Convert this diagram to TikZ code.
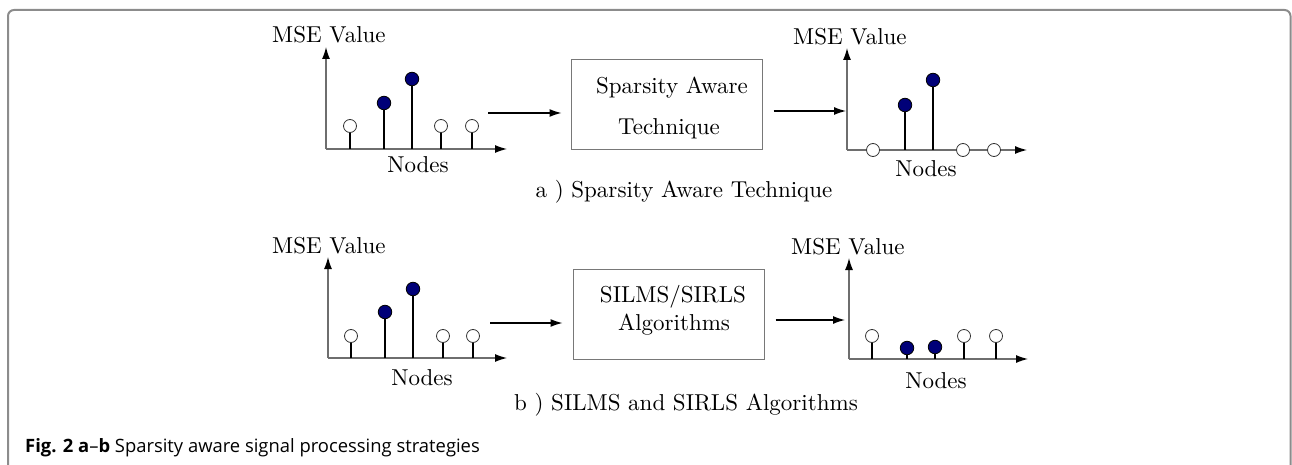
\documentclass[tikz,border=0pt]{standalone}
\usepackage{fontspec}
\setmainfont{lmroman10-regular}[Extension=.otf, BoldFont=lmroman10-bold, ItalicFont=lmroman10-italic]
\newfontfamily\capfont{Open Sans}
\usetikzlibrary{arrows.meta}
\definecolor{navy}{RGB}{0,0,120}
\definecolor{axisgray}{RGB}{110,110,110}
\definecolor{boxgray}{RGB}{120,120,120}
\definecolor{framegray}{RGB}{140,140,140}
\tikzset{
 lbl/.style={font=\fontsize{23}{28}\selectfont, inner sep=0},
 opendot/.style={circle, draw=black!80, fill=white, line width=0.8, minimum size=13, inner sep=0},
 fulldot/.style={circle, draw=black, fill=navy, line width=0.8, minimum size=13.5, inner sep=0},
 stem/.style={line width=1.2, black},
 axisline/.style={line width=1.2, axisgray, -{Latex[length=12,width=8,color=black]}},
 flow/.style={line width=1.2, black, -{Latex[length=12,width=8]}},
 procbox/.style={draw=boxgray, line width=1, rectangle, inner sep=0},
}
\begin{document}
\begin{tikzpicture}[x=1pt,y=-1pt]
\useasboundingbox (0,0) rectangle (1292,465);
% frame
\draw[framegray, line width=2, rounded corners=6] (8,470) -- (8,10) -- (1290.5,10) -- (1290.5,470);

% ---------- top-left plot
\coordinate (o1) at (326,149);
\draw[axisline] (o1) -- (326,47);
\draw[axisline] (o1) -- (507,149);
\node[opendot] (p11) at (350,126) {};
\node[fulldot] (p12) at (384,103) {};
\node[fulldot] (p13) at (412,79) {};
\node[opendot] (p14) at (441,126) {};
\node[opendot] (p15) at (472,126) {};
\foreach \n/\x in {p11/350,p12/384,p13/412,p14/441,p15/472}
  \draw[stem] (\x,149) -- (\n.south);
\node[lbl, anchor=base west] (mse1) at (272,43) {MSE Value};
\node[lbl, anchor=base] (nod1) at (418,172) {Nodes};

% ---------- top box
\node[procbox, minimum width=191, minimum height=90] (box1) at (666.5,105) {};
\node[lbl, anchor=base] (t1a) at (672,94) {Sparsity Aware};
\node[lbl, anchor=base] (t1b) at (669,135) {Technique};
\coordinate (a1s) at (488,113);
\coordinate (a2e) at (846,111);
\draw[flow, shorten >=9] (a1s) -- (box1.west |- a1s);
\draw[flow, shorten <=11] (box1.east |- a2e) -- (a2e);

% ---------- top-right plot
\coordinate (o2) at (847,150);
\draw[axisline] (o2) -- (847,48);
\draw[axisline] (o2) -- (1027,150);
\node[fulldot] (q12) at (905,105) {};
\node[fulldot] (q13) at (933,80) {};
\foreach \n/\x in {q12/905,q13/933}
  \draw[stem] (\x,150) -- (\n.south);
\node[opendot] (q11) at (873,150) {};
\node[opendot] (q14) at (963,150) {};
\node[opendot] (q15) at (994,150) {};
\node[lbl, anchor=base west] (mse2) at (793,45) {MSE Value};
\node[lbl, anchor=base] (nod2) at (926,177) {Nodes};

\node[lbl, anchor=base] (capa) at (684,197) {a ) Sparsity Aware Technique};

% ---------- bottom-left plot
\coordinate (o3) at (328,358);
\draw[axisline] (o3) -- (328,257);
\draw[axisline] (o3) -- (507,358);
\node[opendot] (r11) at (351,336) {};
\node[fulldot] (r12) at (385,312) {};
\node[fulldot] (r13) at (413,289) {};
\node[opendot] (r14) at (443,336) {};
\node[opendot] (r15) at (473,336) {};
\foreach \n/\x in {r11/351,r12/385,r13/413,r14/443,r15/473}
  \draw[stem] (\x,358) -- (\n.south);
\node[lbl, anchor=base west] (mse3) at (272,253) {MSE Value};
\node[lbl, anchor=base] (nod3) at (422,385) {Nodes};

% ---------- bottom box
\node[procbox, minimum width=191, minimum height=90] (box2) at (668.5,314) {};
\node[lbl, anchor=base] (t2a) at (673,302) {SILMS/SIRLS};
\node[lbl, anchor=base] (t2b) at (674,330) {Algorithms};
\coordinate (b1s) at (490,323);
\coordinate (b2e) at (845,320);
\draw[flow, shorten >=10] (b1s) -- (box2.west |- b1s);
\draw[flow, shorten <=11] (box2.east |- b2e) -- (b2e);

% ---------- bottom-right plot
\coordinate (o4) at (849,359);
\draw[axisline] (o4) -- (849,258);
\draw[axisline] (o4) -- (1028,359);
\node[opendot] (s11) at (872,336) {};
\node[fulldot] (s12) at (907,348) {};
\node[fulldot] (s13) at (935,347) {};
\node[opendot] (s14) at (964,336) {};
\node[opendot] (s15) at (996,336) {};
\foreach \n/\x in {s11/872,s12/907,s13/935,s14/964,s15/996}
  \draw[stem] (\x,359) -- (\n.south);
\node[lbl, anchor=base west] (mse4) at (791,254) {MSE Value};
\node[lbl, anchor=base] (nod4) at (936,388) {Nodes};

\node[lbl, anchor=base] (capb) at (686,410) {b ) SILMS and SIRLS Algorithms};

% ---------- figure caption
\node[font=\capfont\fontsize{18.4}{22}\selectfont, anchor=base west, inner sep=0] (figcap) at (25,452)
  {\textbf{Fig. 2 a}–\textbf{b} Sparsity aware signal processing strategies};
\end{tikzpicture}
\end{document}
